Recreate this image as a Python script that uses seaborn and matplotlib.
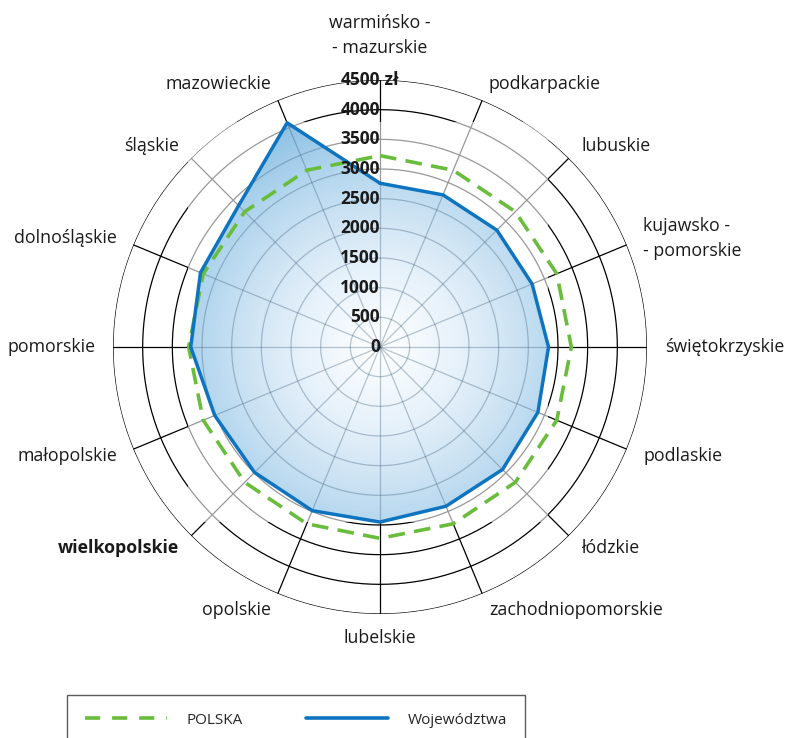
"""
Radar chart: average wages by voivodeship vs. Poland
"""
import matplotlib
matplotlib.use("Agg")
import matplotlib.pyplot as plt
from matplotlib.colors import LinearSegmentedColormap
from matplotlib.lines import Line2D
from matplotlib.patches import Rectangle
import seaborn as sns
import numpy as np

# clockwise from the top
regions = ['warmińsko -\n- mazurskie', 'podkarpackie', 'lubuskie', 'kujawsko -\n- pomorskie',
           'świętokrzyskie', 'podlaskie', 'łódzkie', 'zachodniopomorskie',
           'lubelskie', 'opolskie', 'wielkopolskie', 'małopolskie',
           'pomorskie', 'dolnośląskie', 'śląskie', 'mazowieckie']
wojewodztwa = [2760, 2775, 2785, 2775, 2840, 2880, 2920, 2905,
               2950, 2985, 2990, 3015, 3190, 3275, 3370, 4090]
polska = [3225] * 16
r_ticks = [0, 500, 1000, 1500, 2000, 2500, 3000, 3500, 4000, 4500]

sns.set_style("white")
plt.rcParams['font.family'] = ['Open Sans', 'DejaVu Sans']

BLUE = '#0f74bf'
GREEN = '#6abd3c'

fig = plt.figure(figsize=(7.9, 7.38), dpi=100)
ax = fig.add_axes([113 / 790, 124 / 738, 534 / 790, 534 / 738], projection='polar')
ax.set_theta_zero_location('N')
ax.set_theta_direction(-1)
ax.set_ylim(0, r_ticks[-1])
ax.grid(False)
ax.set_xticks([])
ax.set_yticks([])
ax.spines['polar'].set_visible(False)

n = len(regions)
theta = np.arange(n) * 2 * np.pi / n
theta_c = np.append(theta, 2 * np.pi)
circ = np.linspace(0, 2 * np.pi, 361)


def draw_grid(color, lw, z, alpha=1.0, clip=None):
    lines = []
    for r in r_ticks[1:]:
        lines += ax.plot(circ, np.full_like(circ, r), color=color, lw=lw,
                         alpha=alpha, zorder=z)
    for t in theta:
        lines += ax.plot([t, t], [0, r_ticks[-1]], color=color, lw=lw,
                         alpha=alpha, zorder=z)
    if clip is not None:
        for ln in lines:
            ln.set_clip_path(clip)


draw_grid('black', 0.9, 1)

# pale backdrop that greys the inner grid
ax.add_patch(Rectangle((0.140, 0.172), 0.674, 0.749, transform=ax.transAxes,
                       facecolor='white', alpha=0.6, edgecolor='none', zorder=1.5))

# radial gradient fill clipped to the voivodeship polygon
vals_c = np.append(wojewodztwa, wojewodztwa[0])
poly = ax.fill(theta_c, vals_c, facecolor='none', edgecolor='none', zorder=2)[0]
cmap = LinearSegmentedColormap.from_list('grad', [
    (0.0, '#ffffff'), (0.3, '#e6f1fa'), (0.5, '#cde3f3'),
    (0.7, '#afd4ed'), (0.9, '#8ec1e4'), (1.0, '#7db7e0')])
tg, rg = np.meshgrid(np.linspace(0, 2 * np.pi, 361), np.linspace(0, 4500, 181))
rc = (rg[:-1, :-1] + rg[1:, 1:]) / 2
mesh = ax.pcolormesh(tg, rg, rc, cmap=cmap, vmin=0, vmax=4500, shading='flat',
                     zorder=2, linewidth=0, antialiased=False, rasterized=True)
mesh.set_clip_path(poly)
# grid seen through the fill
draw_grid('#3a5a78', 0.9, 2.5, alpha=0.35, clip=poly)

# series
sns.lineplot(x=theta_c, y=np.append(polska, polska[0]), ax=ax, sort=False,
             estimator=None, color=GREEN, lw=2.6, linestyle=(0, (4.6, 2.6)), zorder=3)
sns.lineplot(x=theta_c, y=vals_c, ax=ax, sort=False, estimator=None,
             color=BLUE, lw=2.5, zorder=4)
ax.set_xlabel('')
ax.set_ylabel('')
if ax.get_legend():
    ax.get_legend().remove()

# radial tick labels
for r in r_ticks:
    ax.text(0, r, str(r), ha='right', va='center', fontsize=12.5, fontweight='bold',
            color='#1a1a1a', zorder=5)
ax.text(0, r_ticks[-1], ' zł', ha='left', va='center', fontsize=12.5,
        fontweight='bold', color='#1a1a1a', zorder=5)

# category labels
lab_r = 4800
for t, name in zip(theta, regions):
    deg = np.degrees(t)
    if np.isclose(deg, 0):
        ha, rr = 'center', 5250
    elif np.isclose(deg, 180):
        ha, rr = 'center', 4900
    elif deg < 180:
        ha, rr = 'left', lab_r
    else:
        ha, rr = 'right', lab_r
    weight = 'bold' if name == 'wielkopolskie' else 'normal'
    ax.text(t, rr, name, ha=ha, va='center', fontsize=12.8, color='#1a1a1a',
            fontweight=weight, linespacing=1.5, clip_on=False)

# legend
handles = [Line2D([], [], color=GREEN, lw=2.6, linestyle=(0, (4.2, 3.3))),
           Line2D([], [], color=BLUE, lw=2.6)]
fig.legend(handles, ['POLSKA', 'Województwa'], loc='upper left',
           bbox_to_anchor=(67 / 790, 1 - 695 / 738), ncol=2, frameon=True,
           fancybox=False, edgecolor='#333333', borderpad=1.15,
           handlelength=5.4, handletextpad=1.3, columnspacing=4.1,
           prop={'size': 11}, borderaxespad=0)

fig.savefig('out.png', dpi=100)
plt.close(fig)
